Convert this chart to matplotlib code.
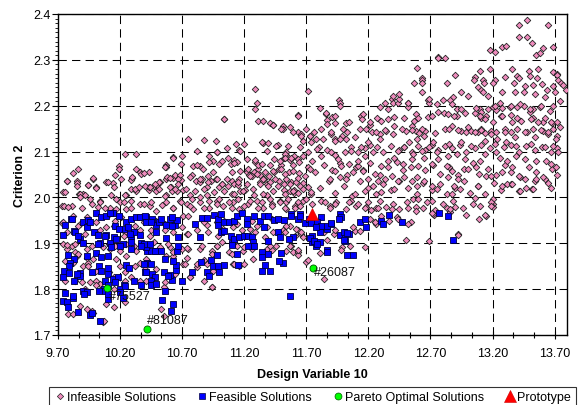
import matplotlib
matplotlib.use('Agg')
import matplotlib.pyplot as plt
import numpy as np
from matplotlib.ticker import FixedLocator, MultipleLocator, FormatStrFormatter
from matplotlib.lines import Line2D

plt.rcParams['font.family'] = ['Liberation Sans', 'DejaVu Sans']

# ---------------- data (x = Design Variable 10, y = Criterion 2) ----------------
infeasible_upper_left = [
(11.285,2.236),(11.30,2.206),(11.29,2.193),(11.31,2.167),(11.35,2.167),(11.04,2.171),(11.63,2.18),(11.41,2.162),(11.43,2.158),(11.51,2.156),(11.51,2.150),(11.57,2.154),(11.63,2.143),
(10.75,2.127),(10.88,2.126),(10.97,2.123),(11.13,2.116),(11.35,2.119),(11.39,2.119),(11.38,2.102),(11.47,2.114),(11.55,2.113),(11.16,2.104),(10.82,2.102),(10.98,2.099),(11.06,2.108),
(10.24,2.094),(10.33,2.094),(10.70,2.091),(10.63,2.088),(10.57,2.071),(10.57,2.066),(10.69,2.073),(10.79,2.069),(10.84,2.069),(10.92,2.091),(10.95,2.079),(11.00,2.072),(11.07,2.085),(11.12,2.082),(11.14,2.078),(11.09,2.072),(11.22,2.055),(11.285,2.078),(11.31,2.063),(11.28,2.055),
(10.19,2.069),(10.19,2.063),(10.33,2.062),(10.30,2.043),(10.29,2.039),(10.36,2.055),(10.37,2.052),(10.43,2.055),(9.86,2.062),(9.82,2.053),(9.85,2.036),(9.85,2.032),(9.77,2.036),(9.74,2.012),(9.94,2.027),(9.98,2.040),(10.01,2.022),(10.09,2.034),(10.14,2.031),(10.16,2.049),(10.21,2.040),
(9.87,2.007),(9.90,2.007),(10.13,2.006),(10.25,2.005),(10.29,2.018),(10.33,2.013),(10.43,2.017),(10.43,2.022),(10.47,2.025),(10.50,2.027),(10.52,2.034),(10.57,2.040),(10.58,2.044),(10.63,2.042),(10.64,2.048),(10.68,2.050),(10.69,2.037),(10.61,2.022),(10.62,2.015),(10.66,2.013),(10.71,2.016),(10.57,2.005),(10.49,2.013),
(10.78,2.048),(10.81,2.036),(10.84,2.033),(10.86,2.040),(10.91,2.046),(10.93,2.036),(10.97,2.040),(10.90,2.022),(11.00,2.022),(11.02,2.030),(11.06,2.040),(11.10,2.036),(11.12,2.030),(11.15,2.028),(11.16,2.040),(11.17,2.013),(11.21,2.017),(11.24,2.050),(11.26,2.046),(11.33,2.033),(11.36,2.040),(11.38,2.030),(11.41,2.034),(11.40,2.046),(11.44,2.055),(11.48,2.062),(11.50,2.070),(11.52,2.086),(11.54,2.092),(11.54,2.099),(11.57,2.082),(11.60,2.090),(11.63,2.084),(11.59,2.070),(11.48,2.036),(11.54,2.040),(11.58,2.034),(11.62,2.033),(11.64,2.053),(11.52,2.017),(11.57,2.013),(11.60,2.010),(11.63,2.010),(11.33,2.050),(11.31,2.070),(10.76,2.005),(10.90,2.005),(11.10,2.007),(11.28,2.005),(11.38,2.005)]

infeasible_upper_right = [
(13.477,2.387),(13.41,2.376),(13.65,2.376),(13.41,2.35),(13.48,2.35),(13.52,2.336),(13.61,2.326),(13.69,2.329),(13.55,2.311),(13.58,2.315),(13.18,2.322),(13.22,2.318),(13.28,2.327),(13.31,2.33),(12.76,2.307),(12.76,2.303),(12.82,2.304),(12.59,2.282),(12.63,2.26),(12.63,2.255),(12.63,2.25),(12.57,2.25),(11.71,2.233),(13.1,2.276),(13.18,2.28),(13.36,2.28),(13.49,2.275),(13.57,2.28),(13.69,2.274),(13.72,2.27),(13.06,2.262),(12.9,2.266),(12.83,2.25),(12.88,2.218),(13.05,2.256),(13.12,2.257),(13.13,2.25),(13.08,2.24),(13.11,2.235),(13.22,2.257),(13.3,2.262),(13.4,2.265),(13.41,2.26),(13.5,2.265),(13.56,2.26),(13.72,2.268),(13.73,2.255),(13.75,2.25),(13.77,2.246),(13.79,2.235),(13.2,2.25),(13.37,2.25),(13.46,2.242),(13.53,2.245),(13.6,2.247),(13.64,2.235),(13.69,2.242),
(11.96,2.212),(11.97,2.207),(12.29,2.197),(12.33,2.205),(12.39,2.214),(12.4,2.207),(12.44,2.207),(12.45,2.214),(12.52,2.205),(12.52,2.197),(12.68,2.212),(12.69,2.207),(12.8,2.212),(12.86,2.212),(12.91,2.193),(13.1,2.193),(13.16,2.193),(13.2,2.197),(13.23,2.19),(13.26,2.207),(13.34,2.197),(13.4,2.197),(13.45,2.2),(13.5,2.187),(13.53,2.192),(13.58,2.197),(13.69,2.2),
(11.63,2.178),(11.86,2.182),(11.91,2.175),(11.87,2.168),(11.93,2.162),(12.02,2.163),(12.14,2.178),(12.15,2.17),(12.21,2.158),(12.27,2.174),(12.36,2.17),(12.41,2.175),(12.49,2.174),(12.58,2.182),(12.6,2.174),(12.68,2.175),(12.76,2.186),(12.81,2.184),(12.91,2.178),(12.98,2.184),(13.06,2.184),(13.11,2.174),(13.15,2.178),(13.27,2.178),(13.35,2.18),(13.4,2.174),(13.53,2.174),(13.61,2.165),(13.68,2.162),(13.72,2.165)]

infeasible_band_right = [
(11.59,2.142),(11.66,2.138),(11.73,2.134),(11.76,2.142),(11.78,2.127),(11.82,2.149),(11.9,2.138),(11.93,2.127),(11.99,2.134),(12.02,2.127),(12.03,2.142),(12.13,2.149),(12.18,2.149),(12.23,2.142),(12.29,2.138),(12.34,2.145),(12.4,2.138),(12.5,2.145),(12.55,2.156),(12.58,2.145),(12.61,2.14),(12.66,2.145),(12.74,2.14),(12.82,2.149),(12.87,2.156),(12.95,2.145),(12.99,2.142),(13.03,2.145),(13.08,2.142),(13.11,2.149),(13.14,2.14),(13.19,2.145),(13.23,2.142),(13.3,2.149),(13.35,2.142),(13.4,2.149),(13.48,2.142),(13.53,2.149),(13.61,2.145),(13.65,2.138),(13.69,2.149),(13.72,2.134),
(11.65,2.11),(11.71,2.1),(11.8,2.11),(11.87,2.104),(11.93,2.093),(12.01,2.1),(12.06,2.11),(12.12,2.1),(12.17,2.108),(12.21,2.114),(12.27,2.11),(12.32,2.1),(12.38,2.112),(12.45,2.104),(12.49,2.11),(12.55,2.1),(12.6,2.112),(12.66,2.104),(12.71,2.114),(12.76,2.104),(12.82,2.112),(12.87,2.108),(12.94,2.114),(12.99,2.1),(13.06,2.108),(13.11,2.114),(13.18,2.108),(13.23,2.1),(13.29,2.11),(13.35,2.114),(13.41,2.1),(13.47,2.112),(13.54,2.104),(13.6,2.11),(13.67,2.1),(13.72,2.108),
(11.56,2.055),(11.64,2.077),(11.71,2.066),(11.77,2.055),(11.84,2.07),(11.91,2.06),(11.97,2.074),(12.03,2.048),(12.1,2.066),(12.16,2.06),(12.21,2.074),(12.29,2.048),(12.36,2.066),(12.43,2.077),(12.48,2.06),(12.54,2.066),(12.59,2.044),(12.66,2.059),(12.72,2.07),(12.78,2.052),(12.85,2.066),(12.92,2.048),(12.97,2.062),(13.04,2.074),(13.09,2.052),(13.16,2.062),(13.23,2.048),(13.3,2.07),(13.35,2.055),(13.42,2.044),(13.49,2.066),(13.55,2.055),(13.62,2.04),(13.68,2.062),(13.72,2.048),
(11.52,2.03),(11.6,2.016),(11.67,2.032),(11.74,2.008),(11.81,2.02),(11.88,2.036),(11.93,2.01),(12.0,2.024),(12.07,2.003),(12.13,2.036),(12.2,2.02),(12.26,2.008),(12.32,2.03),(12.38,2.016),(12.45,2.036),(12.52,2.02),(12.59,2.008),(12.64,2.032),(12.71,2.016),(12.78,2.03),(12.83,2.008),(12.9,2.02),(12.97,2.036),(13.02,2.01),(13.08,2.024),(13.14,2.008),(13.21,2.032),(13.27,2.016),(13.35,2.03),(13.47,2.02),(13.54,2.036),(13.65,2.032)]

infeasible_lower_left = [
(9.73,1.982),(9.81,1.981),(9.89,1.976),(9.97,1.986),(10.04,1.993),(10.12,1.978),(10.2,1.989),(10.25,1.975),(10.29,1.993),(10.36,1.986),(10.44,1.982),(10.49,1.971),(10.57,1.989),(10.63,1.978),(10.68,1.993),(10.74,1.986),(10.79,1.975),(10.84,1.989),(10.92,1.978),(10.98,1.993),(11.03,1.982),(11.11,1.989),(11.16,1.975),(11.23,1.986),(11.30,1.993),(11.35,1.978),(11.42,1.986),(11.49,1.993),(11.54,1.975),(11.61,1.982),
(9.73,1.944),(9.77,1.924),(9.82,1.96),(9.88,1.942),(9.93,1.957),(10.01,1.946),(10.04,1.928),(10.09,1.935),(10.16,1.949),(10.21,1.957),(10.24,1.924),(10.32,1.938),(10.36,1.928),(10.39,1.946),(10.45,1.93),(10.49,1.949),(10.56,1.928),(10.63,1.924),(10.70,1.935),(10.74,1.92),(10.82,1.928),(10.86,1.953),(10.9,1.94),(10.98,1.946),(11.03,1.931),(11.11,1.935),(11.18,1.928),(11.25,1.931),(11.30,1.938),(11.38,1.935),(11.43,1.924),(11.51,1.928),(11.57,1.938),(11.63,1.928),
(9.74,1.898),(9.77,1.888),(9.81,1.895),(9.84,1.88),(9.93,1.888),(9.97,1.895),(10.06,1.891),(10.12,1.888),(10.16,1.895),(10.2,1.884),(10.31,1.895),(10.33,1.884),(10.47,1.902),(10.52,1.891),(10.6,1.891),(10.7,1.888),(10.75,1.888),(10.84,1.888),(10.94,1.884),(11.08,1.882),(11.14,1.895),(11.19,1.884),(11.26,1.888),(11.38,1.888),(11.46,1.895),(11.54,1.884),(11.59,1.88),
(9.76,1.862),(9.85,1.873),(9.9,1.851),(9.94,1.858),(9.98,1.866),(10.01,1.84),(10.17,1.866),(10.2,1.851),(10.25,1.873),(10.36,1.858),(10.41,1.866),(10.49,1.844),(10.57,1.873),(10.63,1.873),(10.74,1.869),(10.76,1.826),(10.82,1.848),(10.9,1.855),(11.11,1.855),(11.16,1.851),(11.27,1.866),
(9.76,1.818),(9.85,1.826),(9.92,1.8),(9.96,1.815),(10.01,1.818),(10.04,1.811),(10.15,1.8),(10.29,1.826),(10.36,1.818),(10.41,1.818),(10.47,1.826),(10.55,1.804),(10.56,1.816),(10.94,1.804),
(9.78,1.746),(9.82,1.746),(9.88,1.764),(9.93,1.757),(9.98,1.749),(10.06,1.729),(10.15,1.76),(10.24,1.771),(10.53,1.757),(10.55,1.742),
(9.77,1.896),(9.84,1.898),(10.11,1.898),(10.25,1.898),(10.59,1.898),(9.86,1.877),(9.93,1.869),(9.82,1.858),(9.94,1.851),(10.32,1.851),(10.4,1.844),(10.24,1.837),(10.11,1.837),(9.84,1.818),(9.89,1.815),(10.01,1.808),(10.15,1.826),(10.24,1.818),(10.09,1.768),(10.63,1.88),(10.64,1.833),(10.71,1.855),(9.97,1.753),(10.07,1.731),
(10.74,1.889),(10.86,1.893),(11.02,1.902),(10.98,1.893),(10.94,1.877),(10.88,1.864),(10.82,1.855),(10.76,1.826),(10.88,1.818),(10.94,1.804),(10.95,1.84),(11.1,1.877),(11.12,1.855),(11.2,1.855),(11.2,1.891),(11.42,1.886),(11.41,1.893),(11.58,1.893),(11.63,1.88),(11.63,1.875),(11.7,1.859),(10.72,1.855)]

infeasible_lower_right = [
(11.54,1.989),(11.61,1.978),(11.67,1.993),(11.75,1.986),(11.82,1.993),(11.89,1.982),(11.94,1.989),(12.02,1.975),(12.06,1.993),(12.10,1.982),(12.2,1.989),(12.26,1.978),(12.29,1.993),(12.4,1.986),(12.45,1.975),(12.51,1.989),(12.56,1.996),(12.64,1.978),(12.71,1.993),(12.8,1.986),(12.88,1.993),(12.96,1.978),(13.1,1.982),(13.2,1.986),
(11.71,1.864),(11.84,1.822),(12.50,1.907),(12.69,1.904),(12.92,1.920),(12.99,1.962),(13.09,1.953),(13.15,1.960),(13.20,1.979),(13.20,1.997),(12.73,1.962),(12.83,1.977),(12.86,1.969),(12.54,1.947),(12.43,1.957),(12.25,1.947),(12.17,1.892),(11.99,1.891),(11.98,1.886),(12.05,1.894),(12.09,1.927),(12.13,1.927),(11.92,1.920),(11.87,1.907),(11.81,1.879),(11.63,1.886),(11.57,1.893),(11.66,1.920),(12.18,1.979),(12.22,1.972),(12.34,1.979),(12.58,1.979),(12.58,1.970),(12.67,1.990),(12.74,1.972),(12.90,1.979),(13.04,1.986),
(13.19,1.991),(13.19,1.981),(13.14,1.962),(12.92,1.919),(13.06,1.998),(12.86,1.975),(13.67,2.02),(13.52,2.018),(13.41,2.013),
(11.53,1.924),(11.62,1.931),(11.67,1.913),(11.84,1.924),(11.93,1.928),(12.08,1.935),(12.21,1.953),(12.26,1.942),(12.37,1.949),(12.44,1.953),(12.52,1.942),(12.72,1.964)]

infeasible_mid_left = [
(10.63,2.087),(10.56,2.066),(9.77,2.036),(9.85,2.026),(9.98,2.042),(9.94,2.027),(10.01,2.02),(10.1,2.034),(10.15,2.022),(10.3,2.044),(10.39,2.053),(10.51,2.034),(10.6,2.042),(10.67,2.04),
(9.76,2.011),(9.88,2.007),(9.92,2.005),(9.88,2.0),(9.96,1.996),(10.04,1.989),(10.17,1.996),(10.24,2.005),(10.32,2.018),(10.35,2.022),(10.4,2.026),(10.44,2.022),(10.48,2.029),(10.51,2.018),(10.56,2.004),(10.6,2.022),(10.64,2.018),(10.67,2.029),
(9.75,1.982),(9.78,1.98),(10.02,1.98),(10.08,1.978),(10.11,1.964),(10.17,1.975),(10.23,1.989),(10.29,1.978),(10.39,1.986),(10.45,1.989),(10.54,1.983),(10.63,1.978),(10.69,1.989),(10.71,1.96),
(9.74,1.946),(9.86,1.938),(9.92,1.92),(10.15,1.938),(10.23,1.916),(10.37,1.957),(10.44,1.916),(10.56,1.942),(10.63,1.949)]

infeasible_mid_center = [
(11.04,2.17),(11.43,2.158),(11.5,2.15),(11.66,2.135),(11.67,2.124),(11.73,2.135),(11.74,2.12),(11.7,2.15),(11.2,2.116),(11.34,2.12),(11.46,2.113),(10.98,2.098),(11.17,2.102),(11.53,2.095),(11.53,2.087),(11.49,2.08),(11.58,2.087),(11.67,2.091),(11.75,2.08),(10.915,2.078),(11.02,2.08),(11.12,2.075),(11.22,2.084),(11.29,2.082),(11.44,2.084),(11.41,2.07),(11.34,2.073),
(10.82,2.07),(10.87,2.062),(10.95,2.055),(10.98,2.04),(11.1,2.055),(11.165,2.058),(11.23,2.062),(11.245,2.046),(11.3,2.051),(11.35,2.04),(11.37,2.055),(11.43,2.058),(11.45,2.04),(11.5,2.062),(11.53,2.051),(11.59,2.058),(11.63,2.042),(11.69,2.046),(11.73,2.062),
(10.76,2.044),(10.84,2.04),(10.91,2.033),(11.02,2.029),(11.07,2.026),(11.15,2.033),(11.22,2.029),(11.33,2.029),(11.39,2.026),(11.47,2.026),(11.57,2.029),(11.65,2.026),(11.71,2.022),
(10.735,2.018),(10.8,2.015),(10.88,2.018),(10.96,2.011),(11.04,2.015),(11.12,2.007),(11.19,2.015),(11.27,2.018),(11.35,2.007),(11.43,2.015),(11.53,2.007),(11.59,2.015),(11.67,2.018),(11.74,2.011),
(10.78,1.996),(10.84,2.0),(10.92,1.993),(11.0,1.996),(11.08,1.989),(11.15,1.996),(11.245,1.993),(11.34,1.989),(11.41,1.996),(11.49,1.989),(11.55,1.996),(11.63,1.989),(11.7,1.996),
(10.76,1.982),(10.88,1.978),(10.98,1.986),(11.1,1.978),(11.2,1.982),(11.31,1.978),(11.42,1.982),(11.53,1.978),(11.65,1.982),
(10.75,1.96),(10.88,1.946),(11.04,1.949),(11.14,1.942),(11.26,1.949),(11.42,1.953),(11.54,1.938),(11.66,1.924),(10.75,1.92),(10.91,1.924),(10.99,1.916),(11.29,1.924),(11.37,1.913),(11.61,1.916),(10.98,1.895),(11.12,1.902),(11.26,1.895)]

infeasible_mid_right = [
(11.97,2.2),(11.81,2.196),(11.86,2.185),(11.93,2.178),(11.87,2.16),(12.04,2.164),(11.997,2.149),(11.9,2.142),(11.835,2.127),(11.93,2.124),(11.97,2.127),(12.09,2.131),(11.79,2.105),(11.82,2.09),(11.9,2.098),(11.955,2.084),(11.98,2.069),(11.93,2.058),(11.89,2.04),(11.97,2.044),(12.02,2.04),(12.08,2.055),(12.12,2.069),(12.16,2.058),(12.2,2.04),(12.25,2.051),(12.28,2.036),(12.33,2.04),(12.39,2.047),(12.44,2.036),(12.49,2.044),(12.55,2.036),(12.59,2.026),(12.65,2.036),(12.71,2.026),(12.75,2.018),(12.41,2.018),(12.3,2.011),(12.24,2.026),(12.17,2.015),(12.09,2.007),(12.04,1.989),(11.93,1.986),(11.85,1.989),(11.89,1.978),(12.12,1.986),(12.17,1.978),(12.28,1.978),(12.3,1.96),(12.25,1.946),(12.39,1.975),(12.52,1.978),(12.6,1.996),(12.71,1.967),
(12.3,2.069),(12.36,2.08),(12.41,2.087),(12.48,2.073),(12.55,2.084),(12.6,2.069),(12.65,2.087),(12.71,2.073),(12.76,2.084),(12.44,2.102),(12.49,2.109),(12.56,2.095),(12.63,2.102),(12.69,2.109),(12.75,2.098),(12.53,2.12),(12.59,2.127),(12.65,2.135),(12.72,2.12),(12.47,2.149),(12.55,2.146),(12.63,2.149),(12.71,2.178),(12.57,2.167),(12.41,2.156),(12.33,2.146),(12.29,2.127),(12.2,2.12),(12.14,2.109),(12.06,2.102),(12.24,2.098),(12.17,2.091),(12.12,2.08),(12.04,2.073),(12.36,2.193),(12.4,2.222),(12.45,2.226),(12.63,2.229),(12.69,2.215),(12.75,2.204),(12.52,2.207),(12.16,2.182),(12.21,2.164),(12.26,2.142),(12.3,2.167),
(12.95,2.229),(13.0,2.222),(13.12,2.229),(13.16,2.222),(13.28,2.229),(13.38,2.229),(13.45,2.229),(13.54,2.226),(13.62,2.218),(13.7,2.229),(12.87,2.204),(12.95,2.193),(13.07,2.196),(13.11,2.186),(13.22,2.2),(13.28,2.196),(13.35,2.2),(13.42,2.204),(13.5,2.193),(13.59,2.2),(13.66,2.189),(13.74,2.211),(12.84,2.182),(12.89,2.178),(13.1,2.178),(13.14,2.171),(13.2,2.164),(13.28,2.178),(13.36,2.164),(13.43,2.167),(13.51,2.171),(13.57,2.164),(13.62,2.174),(13.67,2.164),(13.74,2.153),
(12.85,2.149),(12.92,2.146),(13.0,2.153),(13.06,2.142),(13.11,2.146),(13.19,2.138),(13.24,2.127),(13.3,2.142),(13.38,2.131),(13.46,2.142),(13.54,2.131),(13.59,2.146),(13.65,2.142),(13.71,2.127),(12.85,2.116),(12.95,2.12),(13.03,2.113),(13.14,2.124),(13.22,2.116),(13.31,2.12),(13.39,2.113),(13.51,2.116),(13.62,2.109),(13.69,2.113),(13.73,2.098),
(12.84,2.091),(12.91,2.095),(12.98,2.084),(13.1,2.08),(13.14,2.095),(13.26,2.087),(13.32,2.08),(13.39,2.091),(13.46,2.084),(13.55,2.08),(13.63,2.08),(13.71,2.066),(12.83,2.069),(12.87,2.058),(13.0,2.062),(13.07,2.066),(13.15,2.047),(13.19,2.047),(13.28,2.055),(13.36,2.066),(13.41,2.047),(13.46,2.04),(13.55,2.04),(13.61,2.044),(13.67,2.073),(12.84,2.044),(12.92,2.04),(12.89,2.026),(12.94,2.018),(12.87,2.007),(13.08,2.026),(13.28,2.026),(13.32,2.029),(13.36,2.029),(13.42,2.015),(13.53,2.018)]

feasible_left = [
(9.805,1.953),(9.756,1.94),(9.83,1.927),(9.74,1.918),(9.90,1.946),(9.94,1.951),(10.01,1.967),(10.05,1.957),(10.09,1.96),(10.14,1.965),(10.19,1.959),(9.93,1.936),(9.99,1.924),(10.02,1.918),(10.09,1.917),(10.15,1.913),(10.16,1.937),(10.23,1.931),(10.25,1.946),(10.29,1.953),(10.33,1.958),(10.36,1.957),(10.41,1.958),(10.41,1.947),(10.46,1.952),(10.49,1.94),(10.51,1.947),(10.53,1.953),(10.57,1.94),(10.60,1.953),(10.64,1.94),(10.66,1.951),
(9.88,1.909),(9.90,1.901),(10.04,1.901),(10.12,1.901),(10.17,1.909),(10.22,1.899),(10.29,1.916),(10.31,1.924),(10.36,1.917),(10.37,1.901),(10.42,1.884),(10.45,1.884),(10.49,1.884),(10.41,1.891),(10.53,1.884),(10.57,1.912),(10.66,1.884),(10.67,1.894),
(9.78,1.874),(9.83,1.866),(9.80,1.857),(9.79,1.851),(9.75,1.839),(9.79,1.835),(9.88,1.835),(9.93,1.872),(10.01,1.879),(10.05,1.87),(10.10,1.872),(10.03,1.851),(10.10,1.847),(10.10,1.833),(10.05,1.84),(9.97,1.838),(10.25,1.853),(10.27,1.846),(10.31,1.818),(10.40,1.838),(10.46,1.833),(10.48,1.826),(10.45,1.818),(10.62,1.82),(10.60,1.83),(10.65,1.842),(10.65,1.853),(10.63,1.861),(10.56,1.866),(10.42,1.857),
(9.74,1.826),(9.83,1.818),(9.88,1.829),(10.08,1.818),(10.10,1.808),(10.14,1.822),(10.18,1.826),(10.23,1.808),(10.20,1.801),(10.07,1.801),(10.03,1.797),(9.90,1.795),(9.76,1.792),(9.82,1.781),(9.93,1.793),(10.08,1.795),(10.10,1.779),(10.22,1.781),(10.37,1.808),(10.45,1.808),(10.56,1.797),(10.54,1.777),(9.74,1.775),(9.77,1.771),(9.78,1.762),(9.86,1.750),(9.96,1.744),(9.97,1.749),(10.04,1.731),(10.61,1.753),(10.63,1.768),
(9.81,1.953),(9.96,1.946),(10.12,1.966),(10.26,1.935),(10.4,1.96),(10.45,1.946),(10.49,1.924),(10.62,1.957),(10.62,1.938),(9.84,1.924),(9.86,1.916),(10.08,1.916),(10.19,1.932),(10.28,1.92),(10.29,1.902),(10.39,1.898),(10.44,1.898),(10.2,1.895),(10.02,1.898),(10.67,1.913),
(10.13,1.891),(10.29,1.887),(10.37,1.895),(10.48,1.884),(10.39,1.855),(10.45,1.855),(10.41,1.837),(10.24,1.807),(10.16,1.815),(9.85,1.833),(9.82,1.786),(9.91,1.789),(10.2,1.794),(10.1,1.789),(10.7,1.818),(10.49,1.811),(10.55,1.837),(10.59,1.829)]

feasible_center = [
(10.8,1.942),(10.86,1.956),(10.9,1.956),(10.96,1.962),(10.99,1.953),(11.01,1.964),(10.99,1.94),(11.04,1.946),(11.08,1.946),(11.12,1.949),(11.14,1.96),(11.18,1.966),(11.22,1.953),(11.22,1.942),(11.28,1.959),(11.33,1.949),(11.36,1.96),(11.39,1.959),(11.44,1.951),(11.47,1.954),(11.52,1.951),(11.58,1.964),(11.65,1.964),(11.63,1.954),(11.69,1.944),
(10.84,1.913),(11.01,1.924),(11.04,1.927),(11.09,1.916),(11.1,1.9),(11.12,1.91),(11.16,1.913),(11.2,1.916),(11.23,1.916),(11.26,1.913),(11.27,1.902),(11.27,1.895),(11.36,1.935),(11.39,1.906),(11.47,1.924),(11.49,1.913),(11.59,1.913),(11.75,1.916),(11.75,1.902),
(10.78,1.837),(10.85,1.86),(10.93,1.864),(10.95,1.851),(10.99,1.85),(11.0,1.837),(11.04,1.853),(10.98,1.874),(10.9,1.837),(10.92,1.828),(11.1,1.896),(11.14,1.877),(11.15,1.853),(11.23,1.895),(11.28,1.895),(11.34,1.84),(11.41,1.84),(11.37,1.853),(11.51,1.858),(11.5,1.879),(11.34,1.882),(11.34,1.87),(11.39,1.877),(11.48,1.862),(11.57,1.786)]

feasible_right = [
(11.97,1.964),(11.98,1.957),(11.82,1.957),(11.79,1.946),(11.9,1.942),(11.87,1.932),(11.82,1.938),(11.81,1.924),(12.13,1.946),(12.17,1.953),(12.18,1.935),(12.3,1.949),(12.32,1.942),(12.37,1.962),(12.47,1.947),(11.97,1.918),(12.01,1.92),(12.04,1.92),(12.01,1.906),(11.81,1.902),(11.78,1.895),
(11.58,1.96),(11.65,1.96),(11.72,1.952),(11.74,1.944),(11.78,1.935),(11.87,1.937),(11.9,1.945),(11.96,1.953),(12.0,1.925),(12.03,1.922),(12.0,1.907),(11.73,1.911),(11.76,1.906),(11.79,1.898),(11.87,1.886),(11.87,1.88),(12.03,1.875),(12.08,1.875),(11.56,1.909),
(12.77,1.965),(12.84,1.960),(12.88,1.907)]

pareto_x = [10.094, 10.414, 11.755]
pareto_y = [1.802, 1.712, 1.846]
pareto_ids = ['#75527', '#81087', '#26087']
label_x = [10.11, 10.42, 11.76]
label_y = [1.785, 1.733, 1.837]

prototype_x = [11.742]
prototype_y = [1.964]

x_major = [9.70, 10.20, 10.70, 11.20, 11.70, 12.20, 12.70, 13.20, 13.70]
y_major = [1.7, 1.8, 1.9, 2.0, 2.1, 2.2, 2.3, 2.4]

infeasible = np.array(infeasible_upper_left + infeasible_upper_right + infeasible_band_right +
                      infeasible_lower_left + infeasible_lower_right + infeasible_mid_left +
                      infeasible_mid_center + infeasible_mid_right)
feasible = np.array(feasible_left + feasible_center + feasible_right)

# ---------------- figure ----------------
fig = plt.figure(figsize=(5.83, 4.06), dpi=100)
ax = fig.add_axes([58/583, 1-336/406, (567-58)/583, (336-15)/406])
ax.set_xlim(9.7, 13.8)
ax.set_ylim(1.7, 2.4)

ax.xaxis.set_major_locator(FixedLocator(x_major))
ax.xaxis.set_minor_locator(FixedLocator(np.arange(9.7, 13.81, 0.5/3)))
ax.yaxis.set_major_locator(FixedLocator(y_major))
ax.yaxis.set_minor_locator(MultipleLocator(0.01))
ax.xaxis.set_major_formatter(FormatStrFormatter('%.2f'))
ax.yaxis.set_major_formatter(FormatStrFormatter('%.1f'))

ax.grid(which='major', color='black', linestyle=(0, (8, 5)), linewidth=0.75)
ax.set_axisbelow(True)

ax.tick_params(axis='x', which='major', direction='inout', length=6, width=0.8, labelsize=9, pad=6)
ax.tick_params(axis='x', which='minor', direction='inout', length=4, width=0.8)
ax.tick_params(axis='y', which='major', direction='out', length=4, width=0.8, labelsize=9, pad=1.5)
ax.tick_params(axis='y', which='minor', direction='out', length=2.5, width=0.6)
for s in ax.spines.values():
    s.set_linewidth(1.0)
    s.set_color('black')

pink = '#F08CBE'
ax.scatter(infeasible[:, 0], infeasible[:, 1], marker='D', s=11, facecolor=pink,
           edgecolor='#222222', linewidths=0.6, zorder=3)
ax.scatter(feasible[:, 0], feasible[:, 1], marker='s', s=18, facecolor='#0000FF',
           edgecolor='#000040', linewidths=0.6, zorder=4)
ax.scatter(pareto_x, pareto_y, marker='o', s=26, facecolor='#00FF00',
           edgecolor='#005500', linewidths=0.6, zorder=5)
ax.scatter(prototype_x, prototype_y, marker='^', s=75, facecolor='#FF0000',
           edgecolor='#CC0000', linewidths=0.4, zorder=6)

for lx, ly, t in zip(label_x, label_y, pareto_ids):
    ax.text(lx, ly, t, fontsize=9, ha='left', va='center', color='#111111', zorder=7)

ax.set_xlabel('Design Variable 10', fontsize=9, fontweight='bold', labelpad=6)
ax.set_ylabel('Criterion 2', fontsize=9, fontweight='bold', labelpad=5)

handles = [
    Line2D([], [], linestyle='none', marker='D', markersize=3.2, markerfacecolor=pink, markeredgecolor='#222222', markeredgewidth=0.5),
    Line2D([], [], linestyle='none', marker='s', markersize=4.0, markerfacecolor='#0000FF', markeredgecolor='#000040', markeredgewidth=0.5),
    Line2D([], [], linestyle='none', marker='o', markersize=5.0, markerfacecolor='#00FF00', markeredgecolor='#005500', markeredgewidth=0.5),
    Line2D([], [], linestyle='none', marker='^', markersize=8.0, markerfacecolor='#FF0000', markeredgecolor='#CC0000', markeredgewidth=0.4),
]
labels = ['Infeasible Solutions', 'Feasible Solutions', 'Pareto Optimal Solutions', 'Prototype']
leg = fig.legend(handles, labels, loc='upper left', bbox_to_anchor=(49/583, 1-388/406), ncol=4,
                 frameon=True, fancybox=False, edgecolor='black', fontsize=9, borderaxespad=0,
                 handlelength=1.0, handletextpad=0.1, columnspacing=1.55, borderpad=0.35)
leg.get_frame().set_linewidth(0.8)

fig.savefig('out.png', dpi=100)
